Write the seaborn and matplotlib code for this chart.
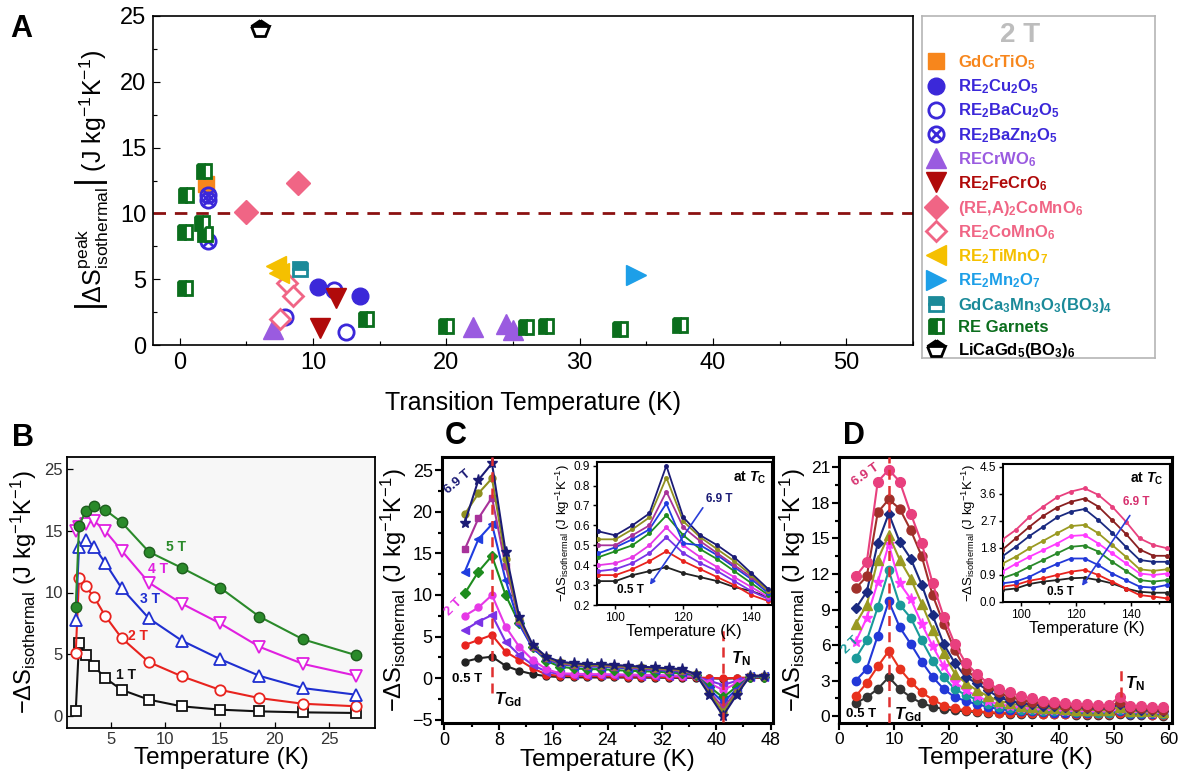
import matplotlib
matplotlib.use("Agg")
import matplotlib.pyplot as plt
from matplotlib.lines import Line2D
from matplotlib.ticker import MultipleLocator, FormatStrFormatter
import seaborn as sns

# ---------------- Panel A: peak |dS| at 2 T vs transition temperature ----------------
gdcrtio_T = [2.0]
gdcrtio_S = [12.2]
cu2o5_T = [10.35, 13.5]
cu2o5_S = [4.4, 3.7]
bacu2o5_T = [11.55, 7.9, 12.5]
bacu2o5_S = [4.2, 2.15, 1.0]
bazn2o5_T = [2.1, 2.1, 2.1]
bazn2o5_S = [11.0, 11.4, 7.9]
crwo6_T = [7.0, 22.0, 24.5, 25.0]
crwo6_S = [1.2, 1.35, 1.6, 1.15]
fecro6_T = [11.7, 10.5]
fecro6_S = [3.55, 1.3]
reacomno6_T = [5.0, 8.9]
reacomno6_S = [10.1, 12.3]
comno6_T = [8.06, 8.5, 7.56]
comno6_S = [4.7, 3.7, 2.0]
timno7_T = [7.2, 7.45]
timno7_S = [6.0, 5.5]
mn2o7_T = [34.2]
mn2o7_S = [5.3]
gdcamn_T = [9.0]
gdcamn_S = [5.8]
garnet_T = [0.37, 0.37, 0.45, 1.85, 1.65, 1.9, 14.0, 20.0, 26.0, 27.5, 33.0, 37.5]
garnet_S = [4.3, 8.6, 11.4, 13.2, 9.3, 8.4, 2.0, 1.45, 1.4, 1.45, 1.25, 1.5]
licagd_T = [6.0]
licagd_S = [24.0]
threshold_S = 10

# ---------------- Panel B ----------------
B_T = [1.8, 2.1, 2.7, 3.5, 4.5, 6.0, 8.5, 11.5, 15.0, 18.6, 22.6, 27.5]
B_1T = [0.35, 5.9, 4.9, 4.0, 3.05, 2.1, 1.3, 0.76, 0.49, 0.35, 0.27, 0.22]
B_2T = [5.1, 11.2, 10.5, 9.6, 8.1, 6.3, 4.35, 3.2, 2.1, 1.43, 0.97, 0.76]
B_3T = [7.8, 13.7, 14.3, 13.7, 12.4, 10.35, 7.9, 6.1, 4.6, 3.24, 2.24, 1.7]
B_4T = [15.0, 15.3, 15.6, 15.8, 15.0, 13.4, 10.8, 9.1, 7.5, 5.6, 4.2, 3.24]
B_5T = [8.8, 15.4, 16.6, 17.0, 16.7, 15.7, 13.3, 12.0, 10.4, 8.05, 6.2, 4.9]
B_ytick_pos = [0, 5, 10, 15, 20]
B_ytick_lab = ["0", "5", "10", "15", "25"]

# ---------------- Panel C ----------------
C_T = [3, 5, 7, 9, 11, 13, 15, 17, 19, 21, 23, 25, 27, 29, 31, 33, 35, 37, 39, 41, 43, 45, 47]
C_05 = [2.0, 2.4, 2.6, 1.5, 0.9, 0.5, 0.25, 0.15, 0.12, 0.1, 0.1, 0.1, 0.08, 0.08, 0.07, 0.06, 0.05, 0.05, 0.0, -0.05, 0.0, 0.05, 0.05]
C_1 = [4.0, 4.6, 5.2, 3.2, 2.2, 1.2, 0.45, 0.3, 0.28, 0.25, 0.25, 0.22, 0.2, 0.2, 0.18, 0.15, 0.15, 0.1, 0.05, 0.0, 0.05, 0.1, 0.1]
C_15 = [5.8, 6.8, 7.6, 4.4, 2.8, 1.6, 0.8, 0.5, 0.45, 0.4, 0.4, 0.38, 0.35, 0.33, 0.3, 0.28, 0.25, 0.2, -0.3, -0.8, -0.3, 0.15, 0.15]
C_2 = [7.5, 8.5, 10.0, 6.2, 3.8, 2.2, 1.1, 0.6, 0.55, 0.5, 0.5, 0.48, 0.45, 0.42, 0.4, 0.35, 0.3, 0.25, -0.6, -1.4, -0.6, 0.15, 0.2]
C_3 = [10.2, 12.8, 14.7, 10.0, 6.6, 3.7, 2.1, 1.4, 1.2, 1.1, 1.1, 1.0, 0.9, 0.85, 0.8, 0.7, 0.6, 0.35, -1.0, -2.3, -1.0, 0.2, 0.2]
C_4 = [12.8, 16.7, 18.5, 11.8, 6.5, 3.6, 2.3, 1.7, 1.5, 1.4, 1.4, 1.3, 1.2, 1.1, 1.0, 0.9, 0.8, 0.4, -1.3, -2.9, -1.3, 0.25, 0.25]
C_5 = [15.5, 19.2, 21.7, 13.5, 6.9, 3.8, 2.4, 1.8, 1.6, 1.5, 1.5, 1.4, 1.3, 1.2, 1.1, 1.0, 0.9, 0.45, -1.6, -3.5, -1.6, 0.3, 0.3]
C_6 = [19.7, 22.2, 24.0, 14.3, 7.1, 3.9, 2.5, 1.9, 1.7, 1.6, 1.6, 1.5, 1.4, 1.3, 1.2, 1.1, 1.0, 0.5, -1.8, -4.0, -1.8, 0.3, 0.3]
C_69 = [18.7, 23.8, 25.8, 15.2, 7.4, 4.0, 2.6, 2.0, 1.8, 1.7, 1.7, 1.6, 1.5, 1.4, 1.3, 1.2, 1.1, 0.5, -2.0, -4.5, -2.0, 0.3, 0.3]
C_TGd = 7
C_TN = 41

CI_T = [95, 100, 105, 110, 115, 120, 125, 130, 135, 140, 145]
CI_05 = [0.32, 0.32, 0.35, 0.37, 0.39, 0.36, 0.34, 0.32, 0.29, 0.27, 0.24]
CI_1 = [0.35, 0.35, 0.38, 0.42, 0.47, 0.42, 0.38, 0.34, 0.30, 0.25, 0.22]
CI_15 = [0.37, 0.38, 0.41, 0.46, 0.54, 0.46, 0.41, 0.37, 0.32, 0.27, 0.23]
CI_2 = [0.40, 0.41, 0.44, 0.50, 0.59, 0.50, 0.44, 0.39, 0.34, 0.29, 0.24]
CI_3 = [0.44, 0.47, 0.50, 0.56, 0.65, 0.55, 0.48, 0.43, 0.37, 0.31, 0.25]
CI_4 = [0.46, 0.49, 0.53, 0.58, 0.71, 0.51, 0.50, 0.45, 0.39, 0.33, 0.26]
CI_5 = [0.50, 0.50, 0.55, 0.60, 0.77, 0.59, 0.52, 0.46, 0.40, 0.34, 0.27]
CI_6 = [0.53, 0.53, 0.58, 0.64, 0.84, 0.62, 0.54, 0.48, 0.42, 0.35, 0.27]
CI_69 = [0.57, 0.55, 0.60, 0.66, 0.90, 0.64, 0.55, 0.50, 0.44, 0.36, 0.28]

# ---------------- Panel D ----------------
D_T = [3, 5, 7, 9, 11, 13, 15, 17, 19, 21, 23, 25, 27, 29, 31, 33, 35, 37, 39, 41, 43, 45, 47, 49, 51, 53, 55, 57, 59]
D_05 = [1.1, 1.6, 2.3, 3.3, 2.3, 1.6, 1.1, 0.8, 0.6, 0.5, 0.4, 0.35, 0.3, 0.25, 0.2, 0.2, 0.15, 0.15, 0.15, 0.15, 0.1, 0.1, 0.1, 0.1, 0.2, 0.1, 0.1, 0.1, 0.05]
D_1 = [1.7, 2.8, 4.2, 5.5, 4.0, 2.9, 2.0, 1.4, 0.9, 0.65, 0.5, 0.4, 0.35, 0.3, 0.3, 0.25, 0.25, 0.2, 0.2, 0.2, 0.2, 0.2, 0.15, 0.15, 0.3, 0.15, 0.15, 0.1, 0.1]
D_15 = [3.0, 4.0, 6.8, 9.7, 7.5, 6.1, 4.6, 3.3, 2.3, 1.6, 1.3, 1.0, 0.8, 0.6, 0.5, 0.45, 0.4, 0.35, 0.3, 0.3, 0.3, 0.25, 0.25, 0.25, 0.4, 0.2, 0.2, 0.2, 0.15]
D_2 = [4.9, 6.4, 9.2, 12.3, 9.4, 8.3, 6.4, 4.7, 3.3, 2.3, 1.8, 1.4, 1.0, 0.8, 0.65, 0.55, 0.5, 0.45, 0.4, 0.4, 0.35, 0.35, 0.3, 0.3, 0.5, 0.3, 0.25, 0.25, 0.2]
D_3 = [6.3, 8.3, 11.3, 14.5, 11.2, 9.9, 7.8, 5.9, 4.2, 2.9, 2.2, 1.7, 1.3, 1.0, 0.85, 0.7, 0.6, 0.55, 0.5, 0.45, 0.45, 0.4, 0.4, 0.4, 0.6, 0.35, 0.35, 0.3, 0.3]
D_4 = [7.8, 9.4, 13.2, 15.3, 13.2, 11.6, 9.5, 7.3, 5.3, 3.6, 2.8, 2.2, 1.7, 1.3, 1.1, 0.9, 0.8, 0.7, 0.65, 0.6, 0.55, 0.55, 0.5, 0.5, 0.8, 0.45, 0.4, 0.4, 0.35]
D_5 = [9.1, 10.5, 14.6, 17.1, 14.7, 13.3, 11.1, 8.5, 6.1, 4.5, 3.3, 2.8, 2.2, 1.6, 1.3, 1.1, 1.0, 0.9, 0.85, 0.8, 0.75, 0.7, 0.65, 0.65, 1.0, 0.6, 0.55, 0.5, 0.45]
D_6 = [10.8, 11.8, 17.2, 18.3, 17.5, 15.7, 13.5, 10.2, 7.8, 5.6, 3.9, 3.2, 2.5, 2.0, 1.6, 1.4, 1.2, 1.1, 1.0, 0.9, 0.85, 0.8, 0.75, 0.75, 1.2, 0.7, 0.65, 0.6, 0.55]
D_69 = [11.8, 13.0, 19.8, 20.8, 19.8, 17.1, 14.6, 11.2, 8.4, 6.1, 4.5, 3.6, 2.8, 2.3, 2.0, 1.7, 1.5, 1.3, 1.2, 1.1, 1.0, 1.0, 0.95, 0.95, 1.6, 0.9, 0.85, 0.8, 0.75]
D_TGd = 9
D_TN = 51.3

DI_T = [93, 98, 103, 108, 113, 118, 123, 128, 133, 138, 143, 148, 153]
DI_05 = [0.39, 0.44, 0.59, 0.67, 0.72, 0.78, 0.80, 0.72, 0.61, 0.44, 0.33, 0.30, 0.30]
DI_1 = [0.50, 0.56, 0.70, 0.78, 0.89, 1.00, 1.06, 0.89, 0.67, 0.44, 0.22, 0.17, 0.11]
DI_15 = [0.61, 0.67, 0.83, 1.06, 1.26, 1.44, 1.44, 1.22, 0.94, 0.72, 0.50, 0.47, 0.56]
DI_2 = [0.78, 0.94, 1.17, 1.39, 1.61, 1.83, 1.87, 1.67, 1.33, 1.03, 0.72, 0.67, 0.72]
DI_3 = [1.00, 1.26, 1.50, 1.72, 1.94, 2.19, 2.22, 1.94, 1.61, 1.28, 0.94, 0.89, 0.94]
DI_4 = [1.26, 1.50, 1.78, 2.03, 2.28, 2.52, 2.56, 2.28, 1.89, 1.50, 1.08, 1.03, 1.08]
DI_5 = [1.50, 1.83, 2.19, 2.50, 2.81, 3.00, 3.09, 2.72, 2.30, 1.83, 1.39, 1.33, 1.33]
DI_6 = [1.72, 2.11, 2.50, 2.86, 3.14, 3.33, 3.44, 3.17, 2.72, 2.26, 1.74, 1.53, 1.53]
DI_69 = [2.06, 2.39, 2.83, 3.17, 3.48, 3.67, 3.78, 3.56, 3.17, 2.67, 2.11, 1.89, 1.78]

# ---------------- styling ----------------
sns.set_theme(style="ticks")
plt.rcParams.update({
    "font.family": ["Liberation Sans", "DejaVu Sans"],
    "mathtext.fontset": "custom",
    "mathtext.rm": "Liberation Sans",
    "mathtext.it": "Liberation Sans:italic:bold",
    "mathtext.bf": "Liberation Sans:bold",
    "mathtext.sf": "Liberation Sans",
    "axes.edgecolor": "black",
    "axes.labelcolor": "black",
    "xtick.color": "black",
    "ytick.color": "black",
    "text.color": "black",
})

W, H = 1179, 776
fig = plt.figure(figsize=(W / 100, H / 100), dpi=100)
fig.patch.set_facecolor("white")

YLAB = r"$-\Delta\mathrm{S}_{\mathrm{isothermal}}$ (J kg$^{\mathrm{-1}}$K$^{\mathrm{-1}}$)"


def px_axes(x0, y0, x1, y1):
    return fig.add_axes([x0 / W, 1 - y1 / H, (x1 - x0) / W, (y1 - y0) / H])


def frame(ax, lw, direction, labelsize, major, minor, pad=3):
    for s in ax.spines.values():
        s.set_visible(True)
        s.set_linewidth(lw)
        s.set_color("black")
    ax.tick_params(which="both", direction=direction, bottom=True, left=True,
                   top=False, right=False, labelsize=labelsize, width=max(lw * 0.7, 0.8),
                   pad=pad)
    ax.tick_params(which="major", length=major)
    ax.tick_params(which="minor", length=minor)
    ax.grid(False)


def curve(ax, x, y, color, marker, ms, mfc=None, mec=None, lw=1.5, mew=1.0, zorder=3):
    sns.lineplot(x=x, y=y, ax=ax, color=color, marker=marker, markersize=ms,
                 markerfacecolor=color if mfc is None else mfc,
                 markeredgecolor=color if mec is None else mec,
                 markeredgewidth=mew, linewidth=lw, sort=False, estimator=None,
                 legend=False, zorder=zorder)


# ======================= Panel A =======================
axA = px_axes(153, 16, 913, 345)
frame(axA, 1.2, "in", 17, 5, 3, pad=5)
axA.set_xlim(-2, 55)
axA.set_ylim(0, 25)
axA.xaxis.set_major_locator(MultipleLocator(10))
axA.xaxis.set_minor_locator(MultipleLocator(5))
axA.yaxis.set_major_locator(MultipleLocator(5))
axA.yaxis.set_minor_locator(MultipleLocator(2.5))
axA.axhline(threshold_S, color="#8b1111", lw=2.0, dashes=(4.5, 3.2), zorder=1)

c_or, c_bl, c_pu, c_dr = "#f7861c", "#3b28d9", "#9a5be0", "#b00a0a"
c_pk, c_go, c_lb, c_te, c_gr = "#f06585", "#f5c000", "#1d9fe8", "#1b8a99", "#0b6e1d"

A_series = [
    (gdcrtio_T, gdcrtio_S, r"$\mathbf{GdCrTiO_5}$", c_or,
     [dict(marker="s", markersize=11, color=c_or, markerfacecolor=c_or, markeredgecolor=c_or)]),
    (cu2o5_T, cu2o5_S, r"$\mathbf{RE_2Cu_2O_5}$", c_bl,
     [dict(marker="o", markersize=12, color=c_bl, markerfacecolor=c_bl, markeredgecolor=c_bl)]),
    (bacu2o5_T, bacu2o5_S, r"$\mathbf{RE_2BaCu_2O_5}$", c_bl,
     [dict(marker="o", markersize=11, color=c_bl, markerfacecolor="none", markeredgecolor=c_bl, markeredgewidth=2)]),
    (bazn2o5_T, bazn2o5_S, r"$\mathbf{RE_2BaZn_2O_5}$", c_bl,
     [dict(marker="o", markersize=11, color=c_bl, markerfacecolor="none", markeredgecolor=c_bl, markeredgewidth=2),
      dict(marker="x", markersize=9, color=c_bl, markeredgecolor=c_bl, markeredgewidth=2)]),
    (crwo6_T, crwo6_S, r"$\mathbf{RECrWO_6}$", c_pu,
     [dict(marker="^", markersize=14, color=c_pu, markerfacecolor=c_pu, markeredgecolor=c_pu)]),
    (fecro6_T, fecro6_S, r"$\mathbf{RE_2FeCrO_6}$", c_dr,
     [dict(marker="v", markersize=14, color=c_dr, markerfacecolor=c_dr, markeredgecolor=c_dr)]),
    (reacomno6_T, reacomno6_S, r"$\mathbf{(RE{,}A)_2CoMnO_6}$", c_pk,
     [dict(marker="D", markersize=12, color=c_pk, markerfacecolor=c_pk, markeredgecolor=c_pk)]),
    (comno6_T, comno6_S, r"$\mathbf{RE_2CoMnO_6}$", c_pk,
     [dict(marker="D", markersize=10, color=c_pk, markerfacecolor="white", markeredgecolor=c_pk, markeredgewidth=2)]),
    (timno7_T, timno7_S, r"$\mathbf{RE_2TiMnO_7}$", c_go,
     [dict(marker="<", markersize=14, color=c_go, markerfacecolor=c_go, markeredgecolor=c_go)]),
    (mn2o7_T, mn2o7_S, r"$\mathbf{RE_2Mn_2O_7}$", c_lb,
     [dict(marker=">", markersize=14, color=c_lb, markerfacecolor=c_lb, markeredgecolor=c_lb)]),
    (gdcamn_T, gdcamn_S, r"$\mathbf{GdCa_3Mn_3O_3(BO_3)_4}$", c_te,
     [dict(marker="s", markersize=10, color=c_te, markerfacecolor=c_te, markeredgecolor=c_te,
           markeredgewidth=2, fillstyle="top", markerfacecoloralt="white")]),
    (garnet_T, garnet_S, "RE Garnets", c_gr,
     [dict(marker="s", markersize=10, color=c_gr, markerfacecolor=c_gr, markeredgecolor=c_gr,
           markeredgewidth=2, fillstyle="left", markerfacecoloralt="white")]),
    (licagd_T, licagd_S, r"$\mathbf{LiCaGd_5(BO_3)_6}$", "black",
     [dict(marker="p", markersize=13, color="black", markerfacecolor="black", markeredgecolor="black",
           markeredgewidth=2, fillstyle="top", markerfacecoloralt="white")]),
]

handles, labels, label_colors = [], [], []
for xs, ys, lab, col, layers in A_series:
    parts = []
    for st in layers:
        st = dict(st)
        st.setdefault("markeredgewidth", 1.0)
        sns.lineplot(x=xs, y=ys, ax=axA, linestyle="none", sort=False, estimator=None,
                     legend=False, zorder=4, **st)
        parts.append(Line2D([], [], linestyle="none", **st))
    handles.append(parts[0] if len(parts) == 1 else tuple(parts))
    labels.append(lab)
    label_colors.append(col)

axA.set_xlabel("Transition Temperature (K)", fontsize=18, labelpad=12)
axA.set_ylabel(r"$\left|\Delta\mathrm{S}^{\mathrm{peak}}_{\mathrm{isothermal}}\right|$ (J kg$^{\mathrm{-1}}$K$^{\mathrm{-1}}$)",
               fontsize=18, labelpad=6)

# legend box to the right
axL = px_axes(922, 16, 1155, 358)
axL.set_xticks([])
axL.set_yticks([])
for s in axL.spines.values():
    s.set_color("#b5b5b5")
    s.set_linewidth(1.2)
leg = axL.legend(handles, labels, loc="upper left", bbox_to_anchor=(0.0, 1.0), frameon=False,
                 prop={"weight": "bold", "size": 12}, handlelength=1.0, handletextpad=0.8,
                 labelspacing=0.33, borderaxespad=0.0, borderpad=0.35,
                 title="2 T", title_fontproperties={"weight": "bold", "size": 20})
leg.get_title().set_color("#bdbdbd")
for t, c in zip(leg.get_texts(), label_colors):
    t.set_color(c)

# ======================= Panel B =======================
axB = px_axes(67, 457, 375, 728)
frame(axB, 1.3, "in", 12, 4, 2)
axB.set_facecolor("#f7f7f7")
curve(axB, B_T, B_1T, "#111111", "s", 7, mfc="white", mew=1.3)
curve(axB, B_T, B_2T, "#e8231e", "o", 7.5, mfc="white", mew=1.3)
curve(axB, B_T, B_3T, "#1f2fd0", "^", 8, mfc="white", mew=1.3)
curve(axB, B_T, B_4T, "#e020e0", "v", 8, mfc="white", mew=1.3)
curve(axB, B_T, B_5T, "#2a8a2a", "o", 7.5, mec="#1d5e1d", mew=1.0)
axB.set_xlim(1, 29.2)
axB.set_ylim(-1, 21)
axB.set_xticks([5, 10, 15, 20, 25])
axB.set_yticks(B_ytick_pos, labels=B_ytick_lab)
axB.tick_params(labelcolor="#333333")
for txt, x, y, c in [("5 T", 11.0, 13.7, "#2a8a2a"), ("4 T", 9.3, 11.9, "#e020e0"),
                     ("3 T", 8.6, 9.5, "#1f2fd0"), ("2 T", 7.5, 6.5, "#e8231e"),
                     ("1 T", 6.4, 3.3, "#111111")]:
    axB.text(x, y, txt, color=c, fontsize=10, fontweight="bold", ha="center", va="center")
axB.set_xlabel("Temperature (K)", fontsize=17.5, labelpad=0)
axB.set_ylabel(YLAB, fontsize=17, labelpad=4)

# ======================= Panel C =======================
C_cols = ["#222222", "#e8231e", "#7b33e6", "#e638e6", "#1e8c1e", "#1f3de0", "#a8329a", "#8f8f1f", "#1b1b75"]
C_marks = ["o", "o", "<", "o", "D", "<", "s", "o", "*"]
C_sizes = [5, 5, 6, 5, 5, 6, 5, 5, 8]
axC = px_axes(441.7, 456.7, 773.3, 723.3)
frame(axC, 2.2, "out", 13, 5, 3, pad=1.5)
for ys, c, m, s in zip([C_05, C_1, C_15, C_2, C_3, C_4, C_5, C_6, C_69], C_cols, C_marks, C_sizes):
    curve(axC, C_T, ys, c, m, s, lw=1.5)
axC.set_xlim(-0.4, 48.4)
axC.set_ylim(-5.4, 26.6)
axC.xaxis.set_major_locator(MultipleLocator(8))
axC.xaxis.set_minor_locator(MultipleLocator(4))
axC.yaxis.set_major_locator(MultipleLocator(5))
axC.yaxis.set_minor_locator(MultipleLocator(2.5))
axC.plot([C_TGd, C_TGd], [-1.8, 26.6], color="#e03030", lw=1.8, dashes=(4, 2.5), zorder=5)
axC.plot([C_TN, C_TN], [-5.3, 5.8], color="#e03030", lw=1.8, dashes=(4, 2.5), zorder=5)
axC.text(3.3, -0.1, "0.5 T", fontsize=9.5, fontweight="bold", ha="center", va="center")
axC.text(9.3, -2.6, r"$T_{\mathbf{Gd}}$", fontsize=12, ha="center", va="center")
axC.text(43.6, 2.4, r"$T_{\mathbf{N}}$", fontsize=12, ha="center", va="center")
axC.text(1.9, 23.6, "6.9 T", fontsize=9.5, fontweight="bold", color="#1b1b75", rotation=40,
         ha="center", va="center")
axC.text(1.3, 8.5, "2 T", fontsize=9.5, fontweight="bold", color="#e638e6", rotation=45,
         ha="center", va="center")
axC.set_xlabel("Temperature (K)", fontsize=17.5, labelpad=0)
axC.set_ylabel(YLAB, fontsize=17, labelpad=2)

axCi = px_axes(596.7, 461.7, 771.7, 605)
frame(axCi, 1.5, "out", 8.5, 3, 1.5, pad=2)
for ys, c in zip([CI_05, CI_1, CI_15, CI_2, CI_3, CI_4, CI_5, CI_6, CI_69], C_cols):
    curve(axCi, CI_T, ys, c, "o", 2.5, lw=1.3)
axCi.set_xlim(94.5, 146)
axCi.set_ylim(0.2, 0.92)
axCi.xaxis.set_major_locator(MultipleLocator(20))
axCi.xaxis.set_minor_locator(MultipleLocator(10))
axCi.yaxis.set_major_locator(MultipleLocator(0.1))
axCi.annotate("", xy=(109.7, 0.29), xytext=(126.2, 0.70),
              arrowprops=dict(arrowstyle="-|>", color="#2a3ed8", lw=1.2, mutation_scale=7))
axCi.text(130.7, 0.734, "6.9 T", fontsize=8.5, fontweight="bold", color="#1b1b75", ha="center", va="center")
axCi.text(104.3, 0.276, "0.5 T", fontsize=8.5, fontweight="bold", ha="center", va="center")
axCi.text(139.5, 0.84, r"at $T_{\mathbf{C}}$", fontsize=10, fontweight="bold", ha="center", va="center")
axCi.set_xlabel("Temperature (K)", fontsize=11.5, labelpad=0)
axCi.set_ylabel(YLAB, fontsize=9.5, labelpad=1)

# ======================= Panel D =======================
D_cols = ["#333333", "#e8321e", "#2238d8", "#1a9a9a", "#ff3cff", "#9a9a22", "#1a2a80", "#a0302a", "#e8407e"]
D_marks = ["o", "o", "o", "o", "*", "^", "D", "o", "o"]
D_sizes = [6, 6, 6, 6, 8, 6.5, 5.5, 6.5, 7]
axD = px_axes(839.3, 456.7, 1171.7, 723.3)
frame(axD, 2.2, "out", 12.5, 5, 3, pad=1.5)
for ys, c, m, s in zip([D_05, D_1, D_15, D_2, D_3, D_4, D_5, D_6, D_69], D_cols, D_marks, D_sizes):
    curve(axD, D_T, ys, c, m, s, mfc=c, mec=c, lw=1.5, mew=1.0)
axD.set_xlim(0, 60.5)
axD.set_ylim(-0.6, 21.9)
axD.xaxis.set_major_locator(MultipleLocator(10))
axD.xaxis.set_minor_locator(MultipleLocator(5))
axD.yaxis.set_major_locator(MultipleLocator(3))
axD.yaxis.set_minor_locator(MultipleLocator(1.5))
axD.plot([D_TGd, D_TGd], [-0.6, 21.9], color="#e03030", lw=1.8, dashes=(4, 2.5), zorder=5)
axD.plot([D_TN, D_TN], [1.6, 3.9], color="#e03030", lw=1.8, dashes=(4, 2.5), zorder=5)
axD.text(3.9, 0.2, "0.5 T", fontsize=9.5, fontweight="bold", ha="center", va="center")
axD.text(12.4, 0.15, r"$T_{\mathbf{Gd}}$", fontsize=12, ha="center", va="center")
axD.text(53.8, 2.76, r"$T_{\mathbf{N}}$", fontsize=12, ha="center", va="center")
axD.text(4.7, 20.4, "6.9 T", fontsize=9.5, fontweight="bold", color="#d6306e", rotation=35,
         ha="center", va="center")
axD.text(2.0, 6.0, "2 T", fontsize=9.5, fontweight="bold", color="#1a9a9a", rotation=45,
         ha="center", va="center")
axD.set_xlabel("Temperature (K)", fontsize=17.5, labelpad=0)
axD.set_ylabel(YLAB, fontsize=17, labelpad=2)

DI_cols = ["#222222", "#e8231e", "#2238d8", "#2a8a2a", "#ff3cff", "#9a9a22", "#1a2a80", "#8a2020", "#e8407e"]
axDi = px_axes(1003.3, 464.3, 1170, 601.7)
frame(axDi, 1.5, "out", 8.5, 3, 1.5, pad=2)
for ys, c in zip([DI_05, DI_1, DI_15, DI_2, DI_3, DI_4, DI_5, DI_6, DI_69], DI_cols):
    curve(axDi, DI_T, ys, c, "o", 2.5, lw=1.3)
axDi.set_xlim(93.5, 154)
axDi.set_ylim(0, 4.58)
axDi.xaxis.set_major_locator(MultipleLocator(20))
axDi.xaxis.set_minor_locator(MultipleLocator(10))
axDi.yaxis.set_major_locator(MultipleLocator(0.9))
axDi.yaxis.set_major_formatter(FormatStrFormatter("%.1f"))
axDi.annotate("", xy=(121.5, 0.45), xytext=(140.0, 2.95),
              arrowprops=dict(arrowstyle="-|>", color="#2a3ed8", lw=1.2, mutation_scale=7))
axDi.text(141.8, 3.33, "6.9 T", fontsize=8.5, fontweight="bold", color="#d6306e", ha="center", va="center")
axDi.text(114.3, 0.33, "0.5 T", fontsize=8.5, fontweight="bold", ha="center", va="center")
axDi.text(145.7, 4.1, r"at $T_{\mathbf{C}}$", fontsize=10, fontweight="bold", ha="center", va="center")
axDi.set_xlabel("Temperature (K)", fontsize=11.5, labelpad=0)
axDi.set_ylabel(YLAB, fontsize=9.5, labelpad=1)

# panel letters
for letter, x, y in [("A", 10, 29), ("B", 12, 438), ("C", 445, 436), ("D", 843, 436)]:
    fig.text(x / W, 1 - y / H, letter, fontsize=22, fontweight="bold", ha="left", va="center")

fig.savefig("out.png", dpi=100, facecolor="white")
